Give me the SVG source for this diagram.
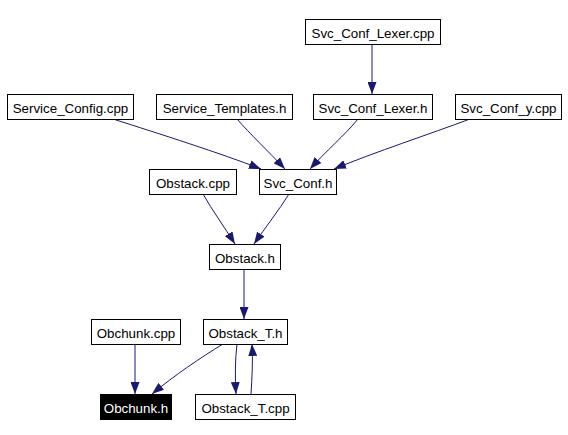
<svg xmlns="http://www.w3.org/2000/svg" width="568" height="435" viewBox="0 0 568 435">
<style>
.n rect{fill:#fff;stroke:#000;stroke-width:1}
.n text{font-family:"Liberation Sans",Arial,sans-serif;font-size:13.33px;text-anchor:middle;fill:#000}
#obchunk_h rect{fill:#000}
#obchunk_h text{fill:#fff}
.e path{fill:none;stroke:#191970;stroke-width:1;marker-end:url(#arr)}
</style>
<defs>
<marker id="arr" viewBox="0 0 12 9" refX="12" refY="4.5" markerWidth="12" markerHeight="9" markerUnits="userSpaceOnUse" orient="auto">
<path d="M0,0 L12,4.5 L0,9 z" fill="#191970"/>
</marker>
</defs>
<rect width="568" height="435" fill="#fff"/>
<g class="e">
<path d="M372,44 L372,94"/>
<path d="M113,119 C160,134 220,153 261,169"/>
<path d="M237,119 C250,134 268,151 285,169"/>
<path d="M358,119 C345,135 325,152 310,169"/>
<path d="M470,119 C430,134 375,152 334,169"/>
<path d="M203,194 C212,210 225,228 235,244"/>
<path d="M289,194 C279,210 265,228 254,244"/>
<path d="M244,269 L244,319"/>
<path d="M135,344 L135,394"/>
<path d="M223,344 C200,358 175,375 152,394"/>
<path d="M237,344 C235,360 235,378 236,394"/>
<path d="M251,394 C252,378 253,360 252,344"/>
</g>
<g class="n" id="svc_conf_lexer_cpp"><rect x="305.5" y="19.5" width="135" height="25"/><text x="373" y="37.5">Svc_Conf_Lexer.cpp</text></g>
<g class="n" id="service_config_cpp"><rect x="7.5" y="94.5" width="126" height="25"/><text x="70.5" y="112.5">Service_Config.cpp</text></g>
<g class="n" id="service_templates_h"><rect x="156.5" y="94.5" width="136" height="25"/><text x="224.5" y="112.5">Service_Templates.h</text></g>
<g class="n" id="svc_conf_lexer_h"><rect x="313.5" y="94.5" width="119" height="25"/><text x="373" y="112.5">Svc_Conf_Lexer.h</text></g>
<g class="n" id="svc_conf_y_cpp"><rect x="455.5" y="94.5" width="106" height="25"/><text x="508.5" y="112.5">Svc_Conf_y.cpp</text></g>
<g class="n" id="obstack_cpp"><rect x="149.5" y="169.5" width="87" height="25"/><text x="193" y="187.5">Obstack.cpp</text></g>
<g class="n" id="svc_conf_h"><rect x="259.5" y="169.5" width="77" height="25"/><text x="298" y="187.5">Svc_Conf.h</text></g>
<g class="n" id="obstack_h"><rect x="209.5" y="244.5" width="71" height="25"/><text x="245" y="262.5">Obstack.h</text></g>
<g class="n" id="obchunk_cpp"><rect x="91.5" y="319.5" width="89" height="25"/><text x="136" y="337.5">Obchunk.cpp</text></g>
<g class="n" id="obstack_t_h"><rect x="203.5" y="319.5" width="84" height="25"/><text x="245.5" y="337.5">Obstack_T.h</text></g>
<g class="n" id="obchunk_h"><rect x="100.5" y="394.5" width="71" height="25"/><text x="136" y="412.5">Obchunk.h</text></g>
<g class="n" id="obstack_t_cpp"><rect x="195.5" y="394.5" width="100" height="25"/><text x="245.5" y="412.5">Obstack_T.cpp</text></g>
</svg>
